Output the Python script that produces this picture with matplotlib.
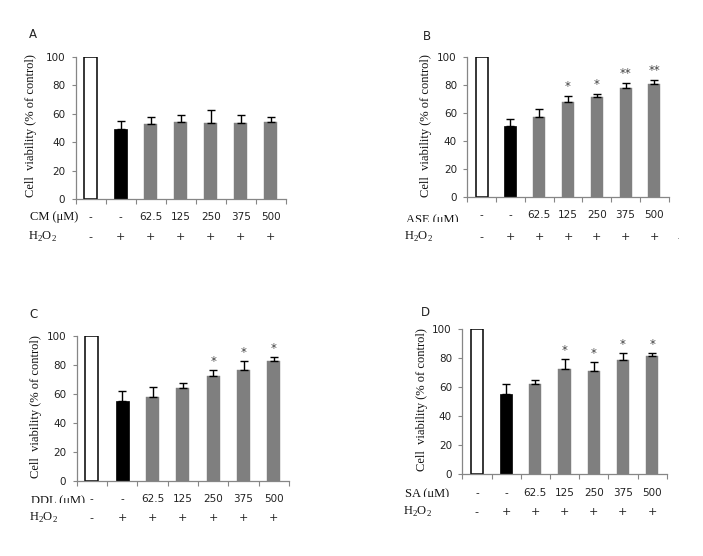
import matplotlib
matplotlib.use("Agg")
import matplotlib.pyplot as plt
from matplotlib.transforms import Bbox

plt.rcParams['mathtext.fontset'] = 'custom'
plt.rcParams['mathtext.rm'] = 'Liberation Serif'

# ---------------- data ----------------
conc_labels = ['-', '-', '62.5', '125', '250', '375', '500']
h2o2_labels = ['-', '+', '+', '+', '+', '+', '+']

cm_mean = [100, 49.1, 52.8, 54.2, 53.5, 53.5, 54.2]
cm_err = [0, 5.6, 4.7, 4.7, 8.9, 5.4, 3.3]
cm_sig = ['', '', '', '', '', '', '']

ase_mean = [100, 51.0, 56.9, 67.6, 71.2, 78.3, 80.5]
ase_err = [0, 5.0, 6.2, 4.8, 2.6, 3.4, 3.3]
ase_sig = ['', '', '', '*', '*', '**', '**']

ddl_mean = [100, 55.2, 57.9, 64.1, 72.4, 76.6, 82.8]
ddl_err = [0, 6.6, 6.7, 3.3, 3.9, 5.9, 2.5]
ddl_sig = ['', '', '', '', '*', '*', '*']

sa_mean = [100, 55.3, 62.2, 72.6, 71.2, 78.8, 81.6]
sa_err = [0, 6.7, 2.5, 6.7, 6.0, 4.6, 1.8]
sa_sig = ['', '', '', '*', '*', '*', '*']

yticks = [0, 20, 40, 60, 80, 100]

W, H = 703, 556
fig = plt.figure(figsize=(W / 100, H / 100), dpi=100)

SERIF = 'Liberation Serif'
SANS = 'DejaVu Sans'
SPINE = '#868686'
GRAY = '#7f7f7f'

# layout in pixels (from top-left)
panels = [
    dict(letter='A', name='CM', mean=cm_mean, err=cm_err, sig=cm_sig,
         x0=75.7, x1=285.7, ytop=56.7, ybot=199.3,
         letter_xy=(33, 35), ylab_xy=(31.5, 126),
         num_y=217.3, lab_x=30, lab_y=217.3, h_y=237, clip=None, extra=None),
    dict(letter='B', name='ASE', mean=ase_mean, err=ase_err, sig=ase_sig,
         x0=467.3, x1=668.7, ytop=57.3, ybot=196.7,
         letter_xy=(427, 36), ylab_xy=(426, 126),
         num_y=215.0, lab_x=406, lab_y=219.5, h_y=237, clip=221.7,
         extra=(678, 236)),
    dict(letter='C', name='DDL', mean=ddl_mean, err=ddl_err, sig=ddl_sig,
         x0=76.7, x1=289.0, ytop=336.0, ybot=481.0,
         letter_xy=(33, 315), ylab_xy=(36, 407),
         num_y=499.3, lab_x=31, lab_y=501.0, h_y=518.3, clip=502.7, extra=None),
    dict(letter='D', name='SA', mean=sa_mean, err=sa_err, sig=sa_sig,
         x0=462.3, x1=666.7, ytop=329.3, ybot=474.0,
         letter_xy=(425, 313), ylab_xy=(422, 400),
         num_y=493.0, lab_x=405, lab_y=493.5, h_y=511.7, clip=496.7, extra=None),
]


def fx(px):
    return px / W


def fy(py):
    return 1 - py / H


for p in panels:
    ax = fig.add_axes([fx(p['x0']), fy(p['ybot']), (p['x1'] - p['x0']) / W,
                       (p['ybot'] - p['ytop']) / H])
    n = len(p['mean'])
    xs = list(range(n))
    colors = ['white', 'black'] + [GRAY] * (n - 2)
    edges = ['black', 'black'] + [GRAY] * (n - 2)
    ax.bar(xs, p['mean'], width=0.42, color=colors, edgecolor=edges,
           linewidth=[1.1, 0.5] + [0.3] * (n - 2), zorder=2)
    ex = xs[1:]
    em = p['mean'][1:]
    ee = p['err'][1:]
    ax.errorbar(ex, em, yerr=[[0] * len(ee), ee], fmt='none', ecolor='black',
                elinewidth=1.0, capsize=2.7, capthick=1.0, zorder=3)
    for i, s in enumerate(p['sig']):
        if s:
            ax.annotate(s, (i, p['mean'][i] + p['err'][i]), xytext=(0, 6.5),
                        textcoords='offset points', ha='center', va='center',
                        fontsize=8.5, color='#404040', family=SANS)

    ax.set_xlim(-0.5, n - 0.5)
    ax.set_ylim(0, 100)
    ax.set_yticks(yticks)
    ax.set_yticklabels([str(t) for t in yticks], fontsize=7.5, family=SANS,
                       color='#222222')
    ax.set_xticks([i - 0.5 for i in range(n + 1)])
    ax.set_xticklabels([])
    ax.tick_params(axis='y', direction='out', length=3, width=0.8,
                   color=SPINE, pad=4.5)
    ax.tick_params(axis='x', direction='out', length=3.8, width=0.8,
                   color=SPINE)
    for side in ('top', 'right'):
        ax.spines[side].set_visible(False)
    for side in ('left', 'bottom'):
        ax.spines[side].set_color(SPINE)
        ax.spines[side].set_linewidth(0.9)
    ax.patch.set_alpha(0)

    # category label rows
    for i in range(n):
        xc = p['x0'] + (i + 0.5) * (p['x1'] - p['x0']) / n
        fig.text(fx(xc), fy(p['num_y']), conc_labels[i], ha='center',
                 va='center', fontsize=7.5, family=SANS, color='#222222')
        fig.text(fx(xc), fy(p['h_y']), h2o2_labels[i], ha='center',
                 va='center', fontsize=8, family=SANS, color='#222222')
    t = fig.text(fx(p['lab_x']), fy(p['lab_y']), p['name'] + ' (\u03bcM)',
                 ha='left', va='center', fontsize=9, family=SERIF,
                 color='#111111')
    if p['clip'] is not None:
        cy = H - p['clip']
        t.set_clip_box(Bbox.from_extents(0, cy, W, H))
        t.set_clip_on(True)
    fig.text(fx(p['lab_x'] - 2), fy(p['h_y']),
             r'H$_\mathregular{2}$O$_\mathregular{2}$', ha='left',
             va='center', fontsize=9, family=SERIF, color='#111111')
    if p['extra'] is not None:
        fig.text(fx(p['extra'][0]), fy(p['extra'][1]), '.', ha='center',
                 va='center', fontsize=7, family=SANS, color='#888888')

    fig.text(fx(p['letter_xy'][0]), fy(p['letter_xy'][1]), p['letter'],
             ha='center', va='center', fontsize=8.5, family=SANS,
             color='#222222')
    fig.text(fx(p['ylab_xy'][0]), fy(p['ylab_xy'][1]),
             'Cell  viability (% of control)', rotation=90, ha='center',
             va='center', fontsize=9, family=SERIF, color='#111111')

fig.savefig('out.png', dpi=100, facecolor='white')
